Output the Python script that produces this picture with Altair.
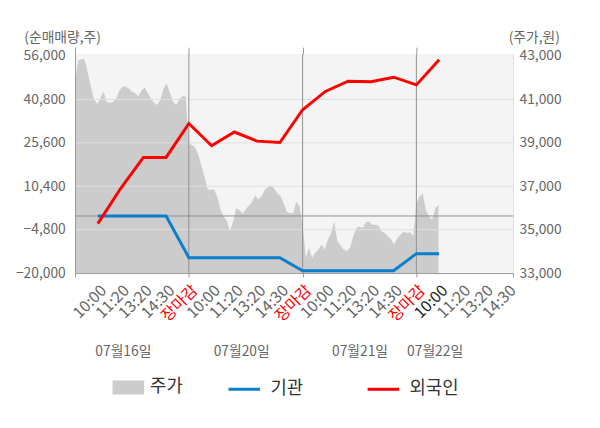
import json
import altair as alt
import pandas as pd

# ---------------- data ----------------
# Share price (주가, 원), sampled evenly through each session (36 samples = full day)
PRICE_DAY1 = [41800, 42800, 42850, 42850, 42250, 41600, 41000, 40800, 41050, 41350,
              40900, 40850, 40900, 41050, 41400, 41600, 41600, 41500, 41350, 41300,
              41150, 41400, 41550, 41300, 41050, 40850, 40750, 41000, 41500, 41750,
              41300, 40900, 40750, 41000, 41150, 41150]
PRICE_DAY2 = [38940, 38910, 38790, 38450, 37950, 37420, 36850, 36850, 36850, 36520,
              35940, 35610, 35420, 34920, 35380, 35990, 35910, 35730, 35940, 36110,
              36260, 36590, 36390, 36550, 36820, 36970, 37050, 36890, 36670, 36550,
              36210, 35830, 35760, 35760, 36290, 36100]
PRICE_DAY3 = [35230, 33710, 34170, 33710, 33940, 34090, 34320, 34090, 34550, 34850,
              35380, 34470, 34270, 34090, 34020, 34170, 34700, 35080, 35150, 35080,
              35330, 35380, 35230, 35230, 35180, 34920, 34850, 34700, 34550, 34320,
              34620, 34770, 34920, 34850, 34880, 34700]
PRICE_DAY4 = [36210, 36520, 36670, 35910, 35610, 35450, 35990, 36140]

# Net buying volume (순매매량, 주) at label slots 1..16
FOREIGN = [-2700, 9600, 20500, 20500, 32400, 24600, 29400, 26200, 25700,
           37200, 43600, 47200, 47000, 48600, 45900, 54700]
INSTITUTION = [0, 0, 0, 0, -14600, -14600, -14600, -14600, -14600,
               -19200, -19200, -19200, -19200, -19200, -13200, -13200]

SESSION_LABELS = ["10:00", "11:20", "13:20", "14:30", "장마감"]
TIME_LABELS = SESSION_LABELS * 3 + SESSION_LABELS[:4]
DATE_LABELS = ["07월16일", "07월20일", "07월21일", "07월22일"]
DATE_POS = [2.1, 7.3, 12.5, 15.8]
DAY_BOUNDS = [5, 10, 15]
LEFT_TICKS = [-20000, -4800, 10400, 25600, 40800, 56000]
GRID_TICKS = [-4800, 10400, 25600, 40800]
RIGHT_TICKS = [33000, 35000, 37000, 39000, 41000, 43000]
SERIES_NAMES = ["주가", "기관", "외국인"]
LEFT_TITLE = "(순매매량,주)"
RIGHT_TITLE = "(주가,원)"

SLOTS_PER_DAY = 5
SAMPLES_PER_DAY = 36
X_MAX = 19.25

# ---------------- tables ----------------
price_rows = []
for d, day in enumerate([PRICE_DAY1, PRICE_DAY2, PRICE_DAY3, PRICE_DAY4]):
    for j, p in enumerate(day):
        price_rows.append({"t": d * SLOTS_PER_DAY + SLOTS_PER_DAY * j / SAMPLES_PER_DAY,
                           "price": p, "series": SERIES_NAMES[0]})
price_df = pd.DataFrame(price_rows)

line_rows = []
for i, (b, f) in enumerate(zip(INSTITUTION, FOREIGN), start=1):
    line_rows.append({"slot": i, "series": SERIES_NAMES[1], "value": b})
    line_rows.append({"slot": i, "series": SERIES_NAMES[2], "value": f})
lines_df = pd.DataFrame(line_rows)

grid_df = pd.DataFrame({"v": GRID_TICKS})
zero_df = pd.DataFrame({"v": [0]})
div_df = pd.DataFrame({"b": DAY_BOUNDS})

# ---------------- scales & axes ----------------
FONT = "Noto Sans CJK KR"
xscale = alt.Scale(domain=[0, X_MAX], nice=False, zero=False)
yl_scale = alt.Scale(domain=[-20000, 56691], nice=False, zero=False)
yr_scale = alt.Scale(domain=[33000, 43091], nice=False, zero=False)

time_expr = json.dumps(TIME_LABELS, ensure_ascii=False) + "[round(datum.value) - 1]"
date_expr = (json.dumps(DATE_LABELS, ensure_ascii=False) + "[indexof("
             + json.dumps(DATE_POS) + ", datum.value)]")
close_test = " || ".join(f"datum.value == {b}" for b in DAY_BOUNDS)

axis_time = alt.Axis(orient="bottom", values=list(range(1, len(TIME_LABELS) + 1)),
                     labelExpr=time_expr, labelAngle=315, labelOverlap=False,
                     labelFlush=False, ticks=False, domain=False, grid=False,
                     labelPadding=9, labelFontSize=16,
                     labelColor={"condition": [
                         {"test": close_test, "value": "#ff0000"},
                         {"test": "datum.value == 16", "value": "#222222"}],
                         "value": "#666666"})
axis_ticks = alt.Axis(orient="bottom", values=[0] + DAY_BOUNDS + [X_MAX], labels=False,
                      ticks=True, tickSize=4, tickColor="#999999", domain=True,
                      domainColor="#999999", grid=False, zindex=1)
axis_dates = alt.Axis(orient="bottom", values=DATE_POS, labelExpr=date_expr,
                      labelAngle=0, labelOverlap=False, labelFlush=False, ticks=False,
                      domain=False, grid=False, labelPadding=73, labelFontSize=14,
                      labelColor="#666666")
axis_top = alt.Axis(orient="top", values=[0] + DAY_BOUNDS, labels=False, ticks=True,
                    tickSize=7, tickColor="#999999", domain=False, grid=False)
axis_left = alt.Axis(orient="left", values=LEFT_TICKS, format=",.0f", ticks=False,
                     grid=False, domainColor="#999999", labelPadding=10,
                     labelFontSize=14, labelColor="#666666", titleAngle=0,
                     titleX=-52, titleY=-17, titleAlign="left", titleBaseline="middle",
                     zindex=1)
axis_right = alt.Axis(orient="right", values=RIGHT_TICKS, format=",.0f", ticks=False,
                      grid=False, domainColor="#dddddd", labelPadding=6,
                      labelFontSize=14, labelColor="#666666", titleAngle=0,
                      titleX=-5, titleY=-17, titleAlign="left", titleBaseline="middle")

fill_legend = alt.Legend(orient="none", legendX=38, legendY=322, title=None,
                         symbolType="M-1,-0.44L1,-0.44L1,0.44L-1,0.44Z",
                         symbolSize=1024, symbolStrokeWidth=0, labelOffset=6,
                         labelFontSize=18, labelColor="#333333")
stroke_legend = alt.Legend(orient="none", legendX=154, legendY=322, title=None,
                           direction="horizontal", symbolType="stroke",
                           symbolSize=1024, symbolStrokeWidth=3, labelOffset=9,
                           columnPadding=58, labelFontSize=18, labelColor="#333333")
stroke_scale = alt.Scale(domain=SERIES_NAMES[1:], range=["#0a7fcc", "#ff0000"])

# ---------------- layers ----------------
area = alt.Chart(price_df).mark_area(opacity=1, strokeWidth=0, clip=True).encode(
    x=alt.X("t:Q", scale=xscale, axis=axis_time, title=None),
    y=alt.Y("price:Q", scale=yr_scale, axis=axis_right, title=RIGHT_TITLE),
    fill=alt.Fill("series:N", scale=alt.Scale(domain=SERIES_NAMES[:1], range=["#cccccc"]),
                  legend=fill_legend),
)

grid = alt.Chart(grid_df).mark_rule(color="#dedede", strokeWidth=1).encode(
    y=alt.Y("v:Q", scale=yl_scale, axis=axis_left, title=LEFT_TITLE))
zero = alt.Chart(zero_df).mark_rule(color="#8f8f8f", strokeWidth=1).encode(
    y=alt.Y("v:Q", scale=yl_scale, axis=axis_left, title=LEFT_TITLE))
dividers = alt.Chart(div_df).mark_rule(color="#8f8f8f", strokeWidth=1).encode(
    x=alt.X("b:Q", scale=xscale, axis=axis_top, title=None))

blue = alt.Chart(lines_df).transform_filter(
    alt.datum.series == SERIES_NAMES[1]).mark_line(strokeWidth=3).encode(
    x=alt.X("slot:Q", scale=xscale, axis=axis_ticks, title=None),
    y=alt.Y("value:Q", scale=yl_scale, axis=axis_left, title=LEFT_TITLE),
    stroke=alt.Stroke("series:N", scale=stroke_scale, legend=stroke_legend),
)
red = alt.Chart(lines_df).transform_filter(
    alt.datum.series == SERIES_NAMES[2]).mark_line(strokeWidth=3).encode(
    x=alt.X("slot:Q", scale=xscale, axis=axis_dates, title=None),
    y=alt.Y("value:Q", scale=yl_scale, axis=axis_left, title=LEFT_TITLE),
    stroke=alt.Stroke("series:N", scale=stroke_scale, legend=stroke_legend),
)

inner = alt.layer(grid, zero, dividers, blue, red).resolve_axis(x="independent")

chart = alt.layer(area, inner).resolve_scale(y="independent").resolve_axis(
    x="independent"
).properties(
    width=444, height=222, autosize="none",
    padding={"left": 68, "top": 44, "right": 80, "bottom": 130},
).configure(font=FONT).configure_view(
    fill="#f4f4f4", strokeWidth=0
).configure_axis(
    labelFont=FONT, titleFont=FONT, titleFontSize=14, titleColor="#666666",
    titleFontWeight="normal"
).configure_legend(labelFont=FONT)

chart.save("out.html", embed_options={"renderer": "svg", "actions": False})
